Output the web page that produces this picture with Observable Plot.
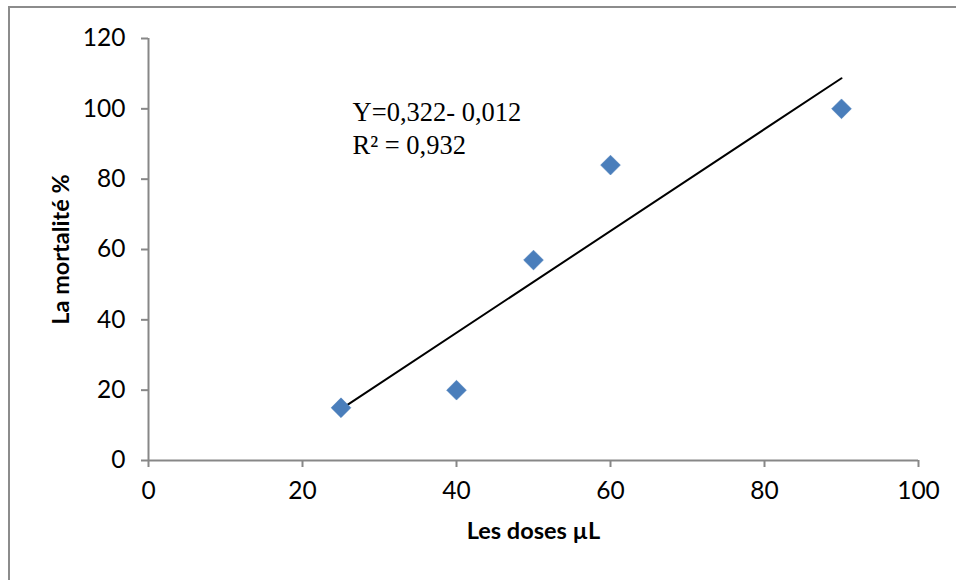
<!DOCTYPE html>
<html>
<head>
<meta charset="utf-8">
<script src="https://cdn.jsdelivr.net/npm/d3@7"></script>
<script src="https://cdn.jsdelivr.net/npm/@observablehq/plot@0.6"></script>
<style>
  html, body { margin: 0; padding: 0; background: #fff; }
  #wrap { position: relative; width: 956px; height: 580px; overflow: hidden; }
  #frame { position: absolute; left: 8px; top: 6px; width: 1200px; height: 1200px;
           border-left: 2px solid #8c8c8c; border-top: 2px solid #8c8c8c; }
  #chart { position: absolute; left: 0; top: 0; }
</style>
</head>
<body>
<div id="wrap"><div id="frame"></div><div id="chart"></div></div>
<script>
// Data
const doses = [25, 40, 50, 60, 90];
const mortality = [15, 20, 57, 84, 100];
const trendDoses = [25, 90];
const trendMortality = [14.6, 108.7];
const xTicks = [0, 20, 40, 60, 80, 100];
const yTicks = [0, 20, 40, 60, 80, 100, 120];
const xTitle = "Les doses µL";
const yTitle = "La mortalité %";
const equationLines = ["Y=0,322- 0,012", "R² = 0,932"];

const points = doses.map((d, i) => ({dose: d, mort: mortality[i]}));
const trend = trendDoses.map((d, i) => ({dose: d, mort: trendMortality[i]}));

const axisColor = "#878787";
const blue = "#4a7ebb";

const chart = Plot.plot({
  width: 956,
  height: 580,
  marginLeft: 148,
  marginRight: 38,
  marginTop: 38,
  marginBottom: 120,
  style: {fontFamily: "Lato, sans-serif", fontSize: "24px", background: "transparent", color: "#000"},
  x: {domain: [0, 100]},
  y: {domain: [0, 120]},
  marks: [
    Plot.axisX({ticks: xTicks, tickSize: 7, tickPadding: 14, stroke: axisColor, strokeWidth: 2, fill: "#000", fontSize: 24.5, label: null}),
    Plot.axisY({ticks: yTicks, tickSize: 7, tickPadding: 16, stroke: axisColor, strokeWidth: 2, fill: "#000", fontSize: 24.5, label: null}),
    Plot.ruleY([0], {stroke: axisColor, strokeWidth: 2}),
    Plot.ruleX([0], {stroke: axisColor, strokeWidth: 2}),
    Plot.line(trend, {x: "dose", y: "mort", stroke: "#000", strokeWidth: 2}),
    Plot.dot(points, {x: "dose", y: "mort", symbol: "square", r: 7.9, rotate: 45, fill: blue, stroke: blue, strokeWidth: 0.5}),
    Plot.text([equationLines.join("\n")], {
      x: 26.5, y: 103.2, text: d => d, textAnchor: "start", lineAnchor: "top",
      fontFamily: "Liberation Serif, Times New Roman, serif", fontSize: 26.5, lineHeight: 1.25, fill: "#000"
    }),
    Plot.text([xTitle], {frameAnchor: "bottom", dy: 78, text: d => d, fontWeight: "bold", fontSize: 23.5, fill: "#000"}),
    Plot.text([yTitle], {frameAnchor: "left", textAnchor: "middle", lineAnchor: "bottom", dx: -80, rotate: -90, text: d => d, fontWeight: "bold", fontSize: 23.5, fill: "#000"})
  ]
});
document.getElementById("chart").appendChild(chart);
</script>
</body>
</html>
